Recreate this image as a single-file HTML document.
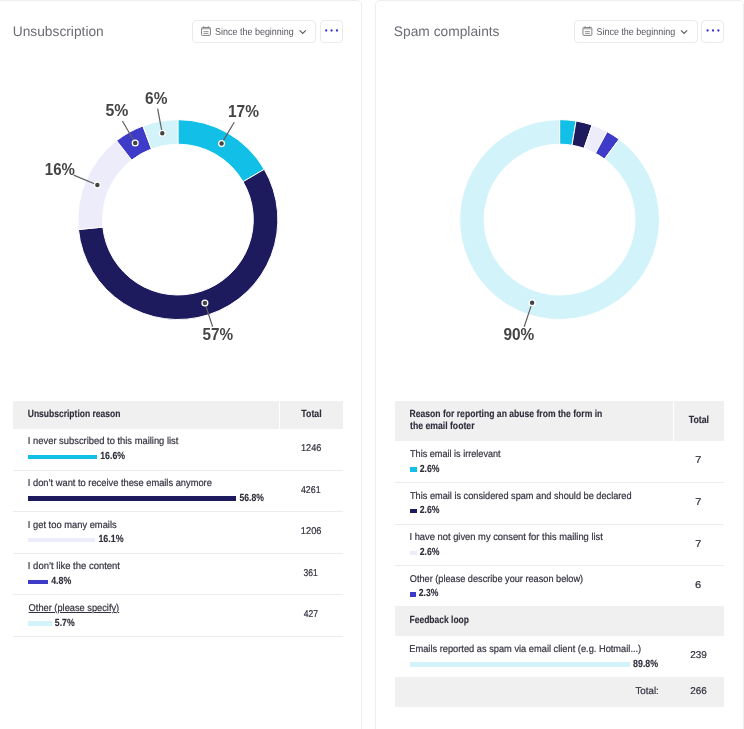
<!DOCTYPE html>
<html lang="en"><head><meta charset="utf-8"><title>Statistics</title>
<style>
html,body{margin:0;padding:0;background:#fff;}
body{width:744px;height:729px;position:relative;overflow:hidden;font-family:"Liberation Sans",Arial,sans-serif;}
.card{position:absolute;top:0;height:760px;background:#fff;border:1px solid #eeeeee;border-radius:5px;box-sizing:border-box;}
.t{position:absolute;left:0;top:0;white-space:nowrap;line-height:normal;transform-origin:0 0;text-rendering:geometricPrecision;-webkit-text-stroke:0.2px currentColor;}
.ti{-webkit-text-stroke:0;}
.tb{-webkit-text-stroke:0.12px currentColor;}
h2{margin:0;font-weight:400;}
.btn{position:absolute;box-sizing:border-box;border:1px solid #ebebeb;border-radius:4px;background:#fff;}
.bg{position:absolute;background:#f0f0f0;}
.dv{position:absolute;height:1px;background:#ececec;}
svg{position:absolute;left:0;top:0;}
.lb{font-family:"Liberation Sans",Arial,sans-serif;font-weight:700;font-size:16px;fill:#444;}
</style></head><body>

<section class="panel" aria-label="Unsubscription">
<div class="card" style="left:-6px;width:368px;"></div>
<div class="btn" style="left:192px;top:20px;width:124px;height:23px;"></div>
<div class="btn" style="left:320px;top:20px;width:23px;height:23px;"></div>
<div class="bg" style="left:13px;top:401px;width:266px;height:28px;"></div>
<div class="bg" style="left:280px;top:401px;width:63px;height:28px;"></div>
<div class="dv" style="left:13px;width:330px;top:470px;"></div>
<div class="dv" style="left:13px;width:330px;top:511px;"></div>
<div class="dv" style="left:13px;width:330px;top:553px;"></div>
<div class="dv" style="left:13px;width:330px;top:594px;"></div>
<div class="dv" style="left:13px;width:330px;top:636px;"></div>
<svg width="744" height="729" viewBox="0 0 744 729">
<path d="M177.90,119.65A99.95,99.95 0 0 1 264.28,169.32L243.07,181.67A75.4,75.4 0 0 0 177.90,144.20Z" fill="#12bfe6" stroke="#fff" stroke-width="1"/>
<path d="M264.28,169.32A99.95,99.95 0 1 1 78.44,229.53L102.87,227.09A75.4,75.4 0 1 0 243.07,181.67Z" fill="#1e1a5e" stroke="#fff" stroke-width="1"/>
<path d="M78.44,229.53A99.95,99.95 0 0 1 116.61,140.64L131.67,160.04A75.4,75.4 0 0 0 102.87,227.09Z" fill="#ececfa" stroke="#fff" stroke-width="1"/>
<path d="M116.61,140.64A99.95,99.95 0 0 1 142.91,125.98L151.50,148.97A75.4,75.4 0 0 0 131.67,160.04Z" fill="#3d3bc7" stroke="#fff" stroke-width="1"/>
<path d="M142.91,125.98A99.95,99.95 0 0 1 177.90,119.65L177.90,144.20A75.4,75.4 0 0 0 151.50,148.97Z" fill="#d3f3fb" stroke="#fff" stroke-width="1"/>
<rect x="28.00" y="455.00" width="69.00" height="4.00" fill="#12bfe6"/>
<rect x="28.00" y="496.00" width="208.00" height="5.00" fill="#1e1a5e"/>
<rect x="28.00" y="538.00" width="67.00" height="4.00" fill="#ececfa"/>
<rect x="28.00" y="580.00" width="20.00" height="4.00" fill="#3d3bc7"/>
<rect x="28.00" y="621.00" width="24.00" height="5.00" fill="#d3f3fb"/>
<line x1="234.2" y1="122.2" x2="221.59" y2="143.62" stroke="#606060" stroke-width="1.2"/><circle cx="221.59" cy="143.62" r="2.9" fill="#444" stroke="#fff" stroke-width="1.3"/>
<text x="228.0" y="116.7" textLength="31.0" lengthAdjust="spacingAndGlyphs" class="lb">17%</text>
<line x1="212.6" y1="326.8" x2="204.91" y2="302.98" stroke="#606060" stroke-width="1.2"/><circle cx="204.91" cy="302.98" r="2.9" fill="#444" stroke="#fff" stroke-width="1.3"/>
<text x="202.6" y="339.9" textLength="30.6" lengthAdjust="spacingAndGlyphs" class="lb">57%</text>
<line x1="73.7" y1="175.1" x2="97.36" y2="185.01" stroke="#606060" stroke-width="1.2"/><circle cx="97.36" cy="185.01" r="2.9" fill="#444" stroke="#fff" stroke-width="1.3"/>
<text x="44.8" y="175.2" textLength="30.0" lengthAdjust="spacingAndGlyphs" class="lb">16%</text>
<line x1="122.4" y1="121.0" x2="135.20" y2="143.06" stroke="#606060" stroke-width="1.2"/><circle cx="135.20" cy="143.06" r="2.9" fill="#444" stroke="#fff" stroke-width="1.3"/>
<text x="105.4" y="116.4" textLength="22.9" lengthAdjust="spacingAndGlyphs" class="lb">5%</text>
<line x1="157.6" y1="108.6" x2="162.31" y2="133.35" stroke="#606060" stroke-width="1.2"/><circle cx="162.31" cy="133.35" r="2.9" fill="#444" stroke="#fff" stroke-width="1.3"/>
<text x="145.1" y="104.2" textLength="22.3" lengthAdjust="spacingAndGlyphs" class="lb">6%</text>
<g fill="none" stroke="#6a6a6a" stroke-width="0.85"><rect x="201.55" y="27.50" width="8.9" height="7.9" rx="0.9"/><path d="M201.60,28.60h8.8" stroke-width="1.5" stroke="#b0b0b0"/><path stroke="#7a7a7a" stroke-width="0.8" d="M203.50,31.60h5M203.50,33.40h5M203.70,26.20v1.3M208.30,26.20v1.3"/></g>
<path d="M299.60,30.4l3.1,3.1l3.1,-3.1" fill="none" stroke="#5a5a5a" stroke-width="1.1"/>
<circle cx="326.20" cy="30.5" r="1.15" fill="#3a34d9"/>
<circle cx="331.60" cy="30.5" r="1.15" fill="#3a34d9"/>
<circle cx="337.00" cy="30.5" r="1.15" fill="#3a34d9"/>
</svg>
<h2 class="t ti" style="font-size:13.9px;font-weight:400;color:#6c6c76;transform:translate(12.70px,23.00px) scaleX(0.9913);">Unsubscription</h2>
<span class="t ti" style="font-size:10.0px;font-weight:400;color:#55555f;transform:translate(215.10px,27.00px) scaleX(0.8954);">Since the beginning</span>
<span class="t tb" style="font-size:10.3px;font-weight:700;color:#2e2d3a;transform:translate(27.75px,409.00px) scaleX(0.8264);">Unsubscription reason</span>
<span class="t tb" style="font-size:10.3px;font-weight:700;color:#2e2d3a;transform:translate(301.30px,409.00px) scaleX(0.8554);">Total</span>
<span class="t" style="font-size:9.9px;font-weight:400;color:#333240;transform:translate(27.85px,436.00px) scaleX(0.9490);">I never subscribed to this mailing list</span>
<span class="t tb" style="font-size:10.3px;font-weight:700;color:#2e2d3a;transform:translate(100.25px,451.00px) scaleX(0.8510);">16.6%</span>
<span class="t" style="font-size:9.9px;font-weight:400;color:#333240;transform:translate(301.00px,443.00px) scaleX(0.9300);">1246</span>
<span class="t" style="font-size:9.9px;font-weight:400;color:#333240;transform:translate(27.85px,478.00px) scaleX(0.9416);">I don’t want to receive these emails anymore</span>
<span class="t tb" style="font-size:10.3px;font-weight:700;color:#2e2d3a;transform:translate(239.55px,493.00px) scaleX(0.8344);">56.8%</span>
<span class="t" style="font-size:9.9px;font-weight:400;color:#333240;transform:translate(300.90px,485.00px) scaleX(0.8952);">4261</span>
<span class="t" style="font-size:9.9px;font-weight:400;color:#333240;transform:translate(27.85px,520.00px) scaleX(0.9461);">I get too many emails</span>
<span class="t tb" style="font-size:10.3px;font-weight:700;color:#2e2d3a;transform:translate(98.40px,534.00px) scaleX(0.8599);">16.1%</span>
<span class="t" style="font-size:9.9px;font-weight:400;color:#333240;transform:translate(300.80px,526.00px) scaleX(0.9420);">1206</span>
<span class="t" style="font-size:9.9px;font-weight:400;color:#333240;transform:translate(27.85px,561.00px) scaleX(0.9588);">I don’t like the content</span>
<span class="t tb" style="font-size:10.3px;font-weight:700;color:#2e2d3a;transform:translate(51.20px,576.00px) scaleX(0.8544);">4.8%</span>
<span class="t" style="font-size:9.9px;font-weight:400;color:#333240;transform:translate(303.45px,568.00px) scaleX(0.8671);">361</span>
<span class="t" style="font-size:9.9px;font-weight:400;color:#333240;transform:translate(28.60px,603.00px) scaleX(0.9378);text-decoration:underline;">Other (please specify)</span>
<span class="t tb" style="font-size:10.3px;font-weight:700;color:#2e2d3a;transform:translate(54.80px,618.00px) scaleX(0.8437);">5.7%</span>
<span class="t" style="font-size:9.9px;font-weight:400;color:#333240;transform:translate(303.70px,609.00px) scaleX(0.8682);">427</span>
</section>
<section class="panel" aria-label="Spam complaints">
<div class="card" style="left:375px;width:369px;"></div>
<div class="btn" style="left:574px;top:20px;width:124px;height:23px;"></div>
<div class="btn" style="left:701px;top:20px;width:23px;height:23px;"></div>
<div class="bg" style="left:395px;top:401px;width:278px;height:40px;"></div>
<div class="bg" style="left:674px;top:401px;width:50px;height:40px;"></div>
<div class="bg" style="left:395px;top:606px;width:329px;height:30px;"></div>
<div class="bg" style="left:395px;top:677px;width:329px;height:30px;"></div>
<div class="dv" style="left:395px;width:329px;top:482px;"></div>
<div class="dv" style="left:395px;width:329px;top:524px;"></div>
<div class="dv" style="left:395px;width:329px;top:565px;"></div>
<svg width="744" height="729" viewBox="0 0 744 729">
<path d="M559.60,119.65A99.95,99.95 0 0 1 576.05,121.01L572.01,145.23A75.4,75.4 0 0 0 559.60,144.20Z" fill="#12bfe6" stroke="#fff" stroke-width="1"/>
<path d="M576.05,121.01A99.95,99.95 0 0 1 592.05,125.07L584.08,148.29A75.4,75.4 0 0 0 572.01,145.23Z" fill="#1e1a5e" stroke="#fff" stroke-width="1"/>
<path d="M592.05,125.07A99.95,99.95 0 0 1 607.17,131.70L595.49,153.29A75.4,75.4 0 0 0 584.08,148.29Z" fill="#ececfa" stroke="#fff" stroke-width="1"/>
<path d="M607.17,131.70A99.95,99.95 0 0 1 619.11,139.30L604.49,159.02A75.4,75.4 0 0 0 595.49,153.29Z" fill="#3d3bc7" stroke="#fff" stroke-width="1"/>
<path d="M619.11,139.30A99.95,99.95 0 1 1 559.60,119.65L559.60,144.20A75.4,75.4 0 1 0 604.49,159.02Z" fill="#d3f3fb" stroke="#fff" stroke-width="1"/>
<rect x="410.00" y="467.00" width="7.00" height="5.00" fill="#12bfe6"/>
<rect x="410.00" y="509.00" width="7.00" height="4.00" fill="#1e1a5e"/>
<rect x="410.00" y="551.00" width="7.00" height="4.00" fill="#ececfa"/>
<rect x="410.00" y="592.00" width="6.00" height="5.00" fill="#3d3bc7"/>
<rect x="410.00" y="662.00" width="220.00" height="5.00" fill="#d3f3fb"/>
<line x1="524.2" y1="326.7" x2="532.12" y2="302.83" stroke="#606060" stroke-width="1.2"/><circle cx="532.12" cy="302.83" r="2.9" fill="#444" stroke="#fff" stroke-width="1.3"/>
<text x="503.5" y="340.0" textLength="30.8" lengthAdjust="spacingAndGlyphs" class="lb">90%</text>
<g fill="none" stroke="#6a6a6a" stroke-width="0.85"><rect x="582.95" y="27.50" width="8.9" height="7.9" rx="0.9"/><path d="M583.00,28.60h8.8" stroke-width="1.5" stroke="#b0b0b0"/><path stroke="#7a7a7a" stroke-width="0.8" d="M584.90,31.60h5M584.90,33.40h5M585.10,26.20v1.3M589.70,26.20v1.3"/></g>
<path d="M681.00,30.4l3.1,3.1l3.1,-3.1" fill="none" stroke="#5a5a5a" stroke-width="1.1"/>
<circle cx="707.60" cy="30.5" r="1.15" fill="#3a34d9"/>
<circle cx="713.00" cy="30.5" r="1.15" fill="#3a34d9"/>
<circle cx="718.40" cy="30.5" r="1.15" fill="#3a34d9"/>
</svg>
<h2 class="t ti" style="font-size:13.9px;font-weight:400;color:#6c6c76;transform:translate(393.85px,23.00px) scaleX(0.9917);">Spam complaints</h2>
<span class="t ti" style="font-size:10.0px;font-weight:400;color:#55555f;transform:translate(596.50px,27.00px) scaleX(0.8953);">Since the beginning</span>
<span class="t tb" style="font-size:10.3px;font-weight:700;color:#2e2d3a;transform:translate(409.50px,409.00px) scaleX(0.8344);">Reason for reporting an abuse from the form in</span>
<span class="t tb" style="font-size:10.3px;font-weight:700;color:#2e2d3a;transform:translate(410.00px,421.00px) scaleX(0.8419);">the email footer</span>
<span class="t tb" style="font-size:10.3px;font-weight:700;color:#2e2d3a;transform:translate(688.70px,415.00px) scaleX(0.8544);">Total</span>
<span class="t" style="font-size:9.9px;font-weight:400;color:#333240;transform:translate(410.00px,449.00px) scaleX(0.9224);">This email is irrelevant</span>
<span class="t tb" style="font-size:10.3px;font-weight:700;color:#2e2d3a;transform:translate(419.65px,464.00px) scaleX(0.8436);">2.6%</span>
<span class="t" style="font-size:9.9px;font-weight:400;color:#333240;transform:translate(695.30px,455.00px) scaleX(1.0957);">7</span>
<span class="t" style="font-size:9.9px;font-weight:400;color:#333240;transform:translate(410.00px,491.00px) scaleX(0.9300);">This email is considered spam and should be declared</span>
<span class="t tb" style="font-size:10.3px;font-weight:700;color:#2e2d3a;transform:translate(419.65px,505.00px) scaleX(0.8436);">2.6%</span>
<span class="t" style="font-size:9.9px;font-weight:400;color:#333240;transform:translate(695.30px,497.00px) scaleX(1.0957);">7</span>
<span class="t" style="font-size:9.9px;font-weight:400;color:#333240;transform:translate(409.45px,532.00px) scaleX(0.9472);">I have not given my consent for this mailing list</span>
<span class="t tb" style="font-size:10.3px;font-weight:700;color:#2e2d3a;transform:translate(419.65px,547.00px) scaleX(0.8436);">2.6%</span>
<span class="t" style="font-size:9.9px;font-weight:400;color:#333240;transform:translate(695.30px,539.00px) scaleX(1.0957);">7</span>
<span class="t" style="font-size:9.9px;font-weight:400;color:#333240;transform:translate(409.75px,574.00px) scaleX(0.9287);">Other (please describe your reason below)</span>
<span class="t tb" style="font-size:10.3px;font-weight:700;color:#2e2d3a;transform:translate(418.75px,588.00px) scaleX(0.8328);">2.3%</span>
<span class="t" style="font-size:9.9px;font-weight:400;color:#333240;transform:translate(695.10px,580.00px) scaleX(1.1381);">6</span>
<span class="t" style="font-size:9.9px;font-weight:400;color:#333240;transform:translate(409.25px,644.00px) scaleX(0.9392);">Emails reported as spam via email client (e.g. Hotmail...)</span>
<span class="t tb" style="font-size:10.3px;font-weight:700;color:#2e2d3a;transform:translate(633.05px,659.00px) scaleX(0.8606);">89.8%</span>
<span class="t" style="font-size:9.9px;font-weight:400;color:#333240;transform:translate(690.20px,650.00px) scaleX(1.0092);">239</span>
<span class="t tb" style="font-size:10.3px;font-weight:700;color:#2e2d3a;transform:translate(409.50px,615.00px) scaleX(0.8247);">Feedback loop</span>
<span class="t" style="font-size:9.9px;font-weight:400;color:#333240;transform:translate(635.50px,686.00px) scaleX(0.9847);">Total:</span>
<span class="t" style="font-size:9.9px;font-weight:400;color:#333240;transform:translate(690.20px,686.00px) scaleX(1.0092);">266</span>
</section>
</body></html>
